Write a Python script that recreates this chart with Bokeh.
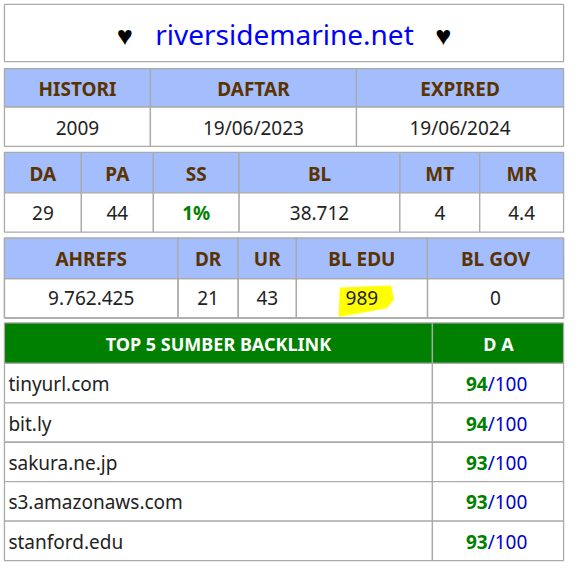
from bokeh.plotting import figure
from bokeh.models import Range1d
from bokeh.core.properties import value
from bokeh.embed import file_html
from bokeh.resources import INLINE

domain = "riversidemarine.net"
head1 = ["HISTORI", "DAFTAR", "EXPIRED"]
row1 = ["2009", "19/06/2023", "19/06/2024"]
head2 = ["DA", "PA", "SS", "BL", "MT", "MR"]
row2 = ["29", "44", "1%", "38.712", "4", "4.4"]
head3 = ["AHREFS", "DR", "UR", "BL EDU", "BL GOV"]
row3 = ["9.762.425", "21", "43", "989", "0"]
sources = ["tinyurl.com", "bit.ly", "sakura.ne.jp", "s3.amazonaws.com", "stanford.edu"]
source_da = ["94", "94", "93", "93", "93"]

FONT = value("Noto Sans")
HEAD_BG = "#a4bdfc"
HEAD_TXT = "#5a3300"
GRID = "#aaaaaa"

p = figure(width=568, height=566, output_backend="svg", toolbar_location=None,
           x_range=Range1d(0, 576), y_range=Range1d(574, 0), min_border=0)
p.axis.visible = False
p.grid.visible = False
p.outline_line_color = None
p.background_fill_color = "white"


def cell(x0, x1, y0, y1, fill):
    p.quad(left=x0, right=x1, top=y0, bottom=y1, fill_color=fill, line_color=GRID, line_width=1.3)


def txt(x, y, s, color="#222222", size="19px", style="normal", align="center"):
    p.text(x=[x], y=[y], text=[s], text_color=color, text_font=FONT, text_font_size=size,
           text_font_style=style, text_align=align, text_baseline="middle")


def table(edges, y0, ym, y1, heads, vals, colors=None):
    for i, (h, v) in enumerate(zip(heads, vals)):
        cell(edges[i], edges[i + 1], y0, ym, HEAD_BG)
        cell(edges[i], edges[i + 1], ym, y1, "white")
        cx = (edges[i] + edges[i + 1]) / 2
        txt(cx, (y0 + ym) / 2 + 1, h, HEAD_TXT, style="bold")
        c = colors[i] if colors else "#222222"
        txt(cx, (ym + y1) / 2 + 1, v, c, style="bold" if c != "#222222" else "normal")


# title
cell(4, 571, 4, 62, "white")
txt(126, 34, "♥", "black", "27px")
txt(288, 34, domain, "#0000ff", "28px")
txt(449, 34, "♥", "black", "27px")

table([4, 152, 361, 571], 69, 108, 148, head1, row1)
table([4, 82, 155, 242, 405, 486, 571], 154, 195, 235, head2, row2,
      ["#222222", "#222222", "#008000", "#222222", "#222222", "#222222"])
# highlight behind 989
cell(4, 571, 241, 322, None)
p.patch([344, 396, 399, 392, 343], [291, 289, 303, 312, 321], fill_color="#ffff00", line_color=None)
edges3 = [4, 180, 241, 300, 433, 571]
for i, h in enumerate(head3):
    cell(edges3[i], edges3[i + 1], 241, 282, HEAD_BG)
    p.quad(left=edges3[i], right=edges3[i + 1], top=282, bottom=322, fill_color=None,
           line_color=GRID, line_width=1.3)
    cx = (edges3[i] + edges3[i + 1]) / 2
    txt(cx, 262, h, HEAD_TXT, style="bold")
    txt(cx, 302, row3[i])

# backlinks
cell(4, 438, 327, 368, "#008000")
cell(438, 571, 327, 368, "#008000")
txt(221, 348, "TOP 5 SUMBER BACKLINK", "white", "18px", "bold")
txt(505, 348, "D A", "white", "18px", "bold")
for i, (s, d) in enumerate(zip(sources, source_da)):
    y0 = 368 + 40 * i
    cell(4, 438, y0, y0 + 40, "white")
    cell(438, 571, y0, y0 + 40, "white")
    txt(8, y0 + 21, s, "#222222", align="left")
    txt(494, y0 + 21, d, "#008000", style="bold", align="right")
    txt(494, y0 + 21, "/100", "#0000cc", align="left")

open("out.html", "w").write(file_html(p, INLINE))
